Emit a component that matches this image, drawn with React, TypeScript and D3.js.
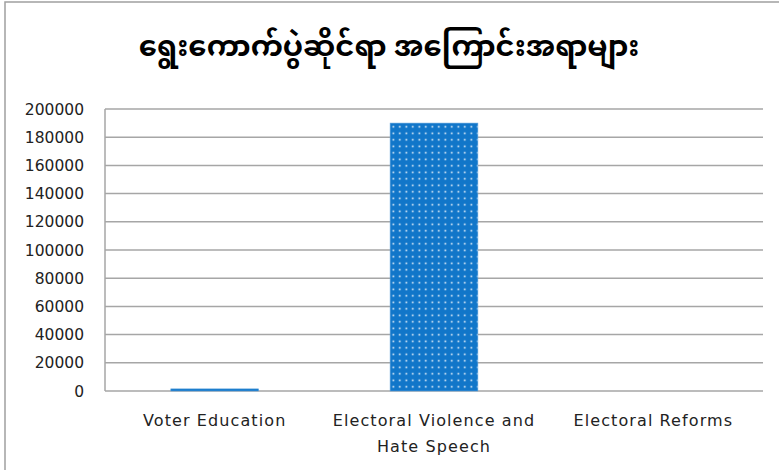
import React from "react";
import * as d3 from "d3";

const title = "ရွေးကောက်ပွဲဆိုင်ရာ အကြောင်းအရာများ";
const categories = ["Voter Education", "Electoral Violence and Hate Speech", "Electoral Reforms"];
const categoryLines = [["Voter Education"], ["Electoral Violence and", "Hate Speech"], ["Electoral Reforms"]];
const values = [1500, 190000, 0];
const yTicks = [0, 20000, 40000, 60000, 80000, 100000, 120000, 140000, 160000, 180000, 200000];

const W = 779, H = 470;
const M = { left: 105, right: 763, top: 109, bottom: 391 };

export default function App() {
  const x = d3.scaleBand<string>().domain(categories).range([M.left, M.right]).paddingInner(0.6).paddingOuter(0.3);
  const y = d3.scaleLinear().domain([0, 200000]).range([M.bottom, M.top]);
  const band = d3.scaleBand<string>().domain(categories).range([M.left, M.right]);
  const font = "'DejaVu Sans', Verdana, sans-serif";
  const grid = "#a6a6a6";
  return (
    <div style={{ position: "absolute", left: 0, top: 0 }}>
      <svg width={W} height={H} style={{ display: "block", background: "#fff" }}>
        <defs>
          <pattern id="dots" patternUnits="userSpaceOnUse" width={6.5} height={6.5}>
            <rect width={6.5} height={6.5} fill="#1176c9" />
            <rect x={2.5} y={2.5} width={1.6} height={1.6} fill="#f2f8fd" />
          </pattern>
        </defs>
        <rect x={5} y={2} width={W} height={H} fill="#fff" stroke="#a0a0a0" strokeWidth={1.5} />
        <text x={389} y={56} textAnchor="middle" fontSize={29} fontWeight="bold" fontFamily="'Noto Sans Myanmar', Padauk, 'Myanmar Text', sans-serif" fill="#000">{title}</text>
        {yTicks.map((t) => (
          <g key={t}>
            <line x1={M.left} x2={M.right} y1={y(t)} y2={y(t)} stroke={grid} strokeWidth={1.5} />
            <text x={84} y={y(t)} dy="0.36em" textAnchor="end" fontSize={15.5} fontFamily={font} fill="#222">{t}</text>
          </g>
        ))}
        <line x1={M.left} x2={M.left} y1={M.top} y2={M.bottom} stroke={grid} strokeWidth={1.5} />
        {categories.map((c, i) => (
          <rect key={c} x={x(c)} y={y(values[i])} width={x.bandwidth()} height={M.bottom - y(values[i])} fill="url(#dots)" stroke="#5aa0dc" strokeWidth={0.6} />
        ))}
        {categories.map((c, i) => (
          <text key={c} x={(band(c) as number) + band.bandwidth() / 2} y={426} textAnchor="middle" fontSize={16} letterSpacing={1.1} fontFamily={font} fill="#222">
            {categoryLines[i].map((l, j) => (
              <tspan key={j} x={(band(c) as number) + band.bandwidth() / 2} dy={j === 0 ? 0 : 26}>{l}</tspan>
            ))}
          </text>
        ))}
      </svg>
    </div>
  );
}
